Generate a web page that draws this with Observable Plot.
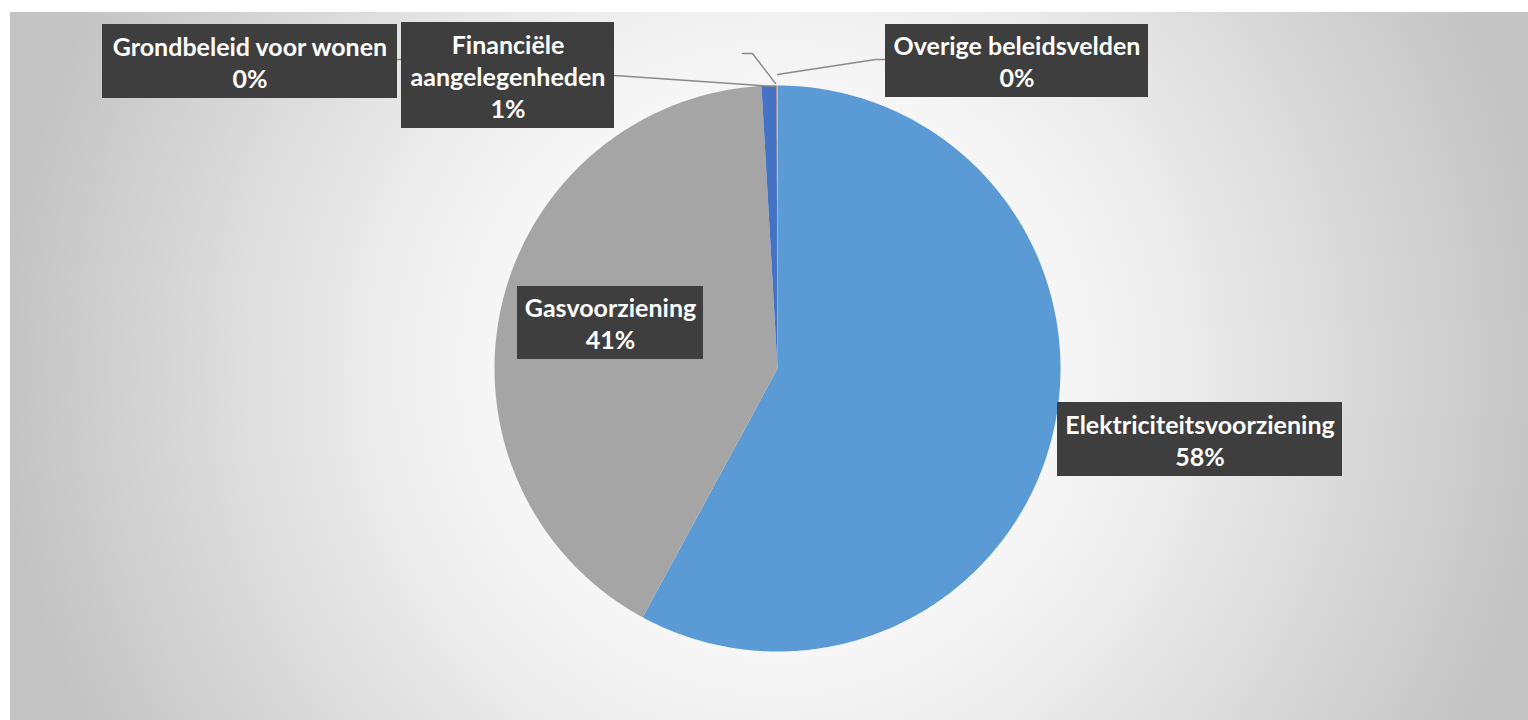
<!DOCTYPE html>
<html><head><meta charset="utf-8">
<script src="https://cdn.jsdelivr.net/npm/d3@7"></script>
<script src="https://cdn.jsdelivr.net/npm/@observablehq/plot@0.6"></script>
<style>
html,body{margin:0;padding:0;background:#fff;}
#wrap{position:relative;width:1528px;height:720px;overflow:hidden;}
#bg{position:absolute;left:10px;top:12px;width:1518px;height:708px;
 background:radial-gradient(ellipse 780px 800px at 767px 356px,#fff 0%,#fff 22%,#ececec 52%,#c3c3c3 100%);}
#chart{position:absolute;left:0;top:0;}
</style></head><body>
<div id="wrap"><div id="bg"></div><div id="chart"></div></div>
<script>
// ---- data ----
const categories = ["Elektriciteitsvoorziening", "Gasvoorziening", "Financiële aangelegenheden", "Grondbeleid voor wonen", "Overige beleidsvelden"];
const values = [57.9, 41.2, 0.85, 0.03, 0.02];
const colors = ["#5B9BD5", "#A5A5A5", "#4472C4", "#ED7D31", "#FFC000"];

// ---- layout (pixels) ----
const CX = 777, CY = 368, R = 283;
const labelBoxes = [
  {cat: "Elektriciteitsvoorziening", x1: 1057, x2: 1342, y1: 402, y2: 476, wrap: false},
  {cat: "Gasvoorziening", x1: 517, x2: 703, y1: 286, y2: 359, wrap: false},
  {cat: "Financiële aangelegenheden", x1: 401, x2: 614, y1: 22, y2: 128, wrap: true},
  {cat: "Grondbeleid voor wonen", x1: 102, x2: 397, y1: 24, y2: 98, wrap: false},
  {cat: "Overige beleidsvelden", x1: 885, x2: 1148, y1: 24, y2: 97, wrap: false}
];
const leaderPaths = [
  {id: "a", pts: [[397, 59], [412, 59]]},
  {id: "b", pts: [[742, 53], [752, 53], [775, 83]]},
  {id: "c", pts: [[614, 75], [775, 86]]},
  {id: "d", pts: [[885, 59], [875, 59], [777, 74]]}
];

const ux = px => (px - CX) / R;
const uy = py => (CY - py) / R;

// ---- slices ----
const total = d3.sum(values);
let acc = 0;
const slicePts = [];
categories.forEach((c, i) => {
  const a0 = acc / total * 2 * Math.PI; acc += values[i]; const a1 = acc / total * 2 * Math.PI;
  const n = Math.max(2, Math.ceil((a1 - a0) / (Math.PI / 360)));
  slicePts.push({cat: c, x: 0, y: 0});
  for (let k = 0; k <= n; k++) {
    const a = a0 + (a1 - a0) * k / n;
    slicePts.push({cat: c, x: Math.sin(a), y: Math.cos(a)});
  }
});

const labels = labelBoxes.map(b => {
  const i = categories.indexOf(b.cat);
  const pct = Math.round(values[i] / total * 100) + "%";
  const name = b.wrap ? b.cat.replace(" ", "\n") : b.cat;
  return {x1: ux(b.x1), x2: ux(b.x2), y1: uy(b.y1), y2: uy(b.y2),
          cx: ux((b.x1 + b.x2) / 2), cy: uy((b.y1 + b.y2) / 2), text: name + "\n" + pct};
});
const leaderPts = leaderPaths.flatMap(p => p.pts.map(([x, y]) => ({id: p.id, x: ux(x), y: uy(y)})));

const plot = Plot.plot({
  width: 1528, height: 720, margin: 0,
  style: {background: "transparent", overflow: "visible"},
  x: {domain: [-1, 1], range: [CX - R, CX + R], axis: null},
  y: {domain: [-1, 1], range: [CY + R, CY - R], axis: null},
  color: {domain: categories, range: colors},
  marks: [
    Plot.line(slicePts, {x: "x", y: "y", z: "cat", fill: "cat", stroke: "none", curve: "linear-closed"}),
    Plot.line(leaderPts, {x: "x", y: "y", z: "id", stroke: "#8a8a8a", strokeWidth: 1.4, curve: "linear"}),
    Plot.rect(labels, {x1: "x1", x2: "x2", y1: "y1", y2: "y2", fill: "#3e3e3e", ariaLabel: "boxes"}),
    Plot.text(labels, {x: "cx", y: "cy", text: "text", fill: "white", fontSize: 25, fontWeight: "bold",
      fontFamily: "Lato", lineHeight: 1.29, ariaLabel: "labels"})
  ]
});
document.getElementById("chart").appendChild(plot);

const svg = d3.select(plot);
const defs = svg.insert("defs", ":first-child");
const pat = defs.append("pattern").attr("id", "dots").attr("patternUnits", "userSpaceOnUse").attr("width", 6).attr("height", 6);
pat.append("rect").attr("width", 6).attr("height", 6).attr("fill", "#3c3c3c");
pat.append("rect").attr("x", 2).attr("y", 2).attr("width", 1.6).attr("height", 1.6).attr("fill", "#5c5c5c");
const f = defs.append("filter").attr("id", "shadow").attr("x", "-10%").attr("y", "-20%").attr("width", "130%").attr("height", "150%");
f.append("feDropShadow").attr("dx", 3).attr("dy", 4).attr("stdDeviation", 2.5).attr("flood-color", "#000").attr("flood-opacity", 0.55);
svg.select('g[aria-label="boxes"]').attr("filter", "url(#shadow)").selectAll("rect").attr("fill", "url(#dots)");
</script>
</body></html>
